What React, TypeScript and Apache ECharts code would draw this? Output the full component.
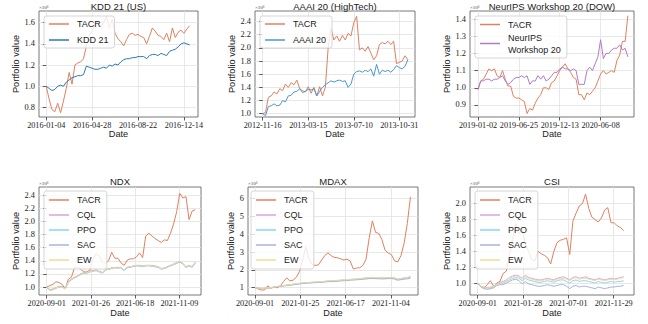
import React, { useEffect, useRef } from "react";
import * as echarts from "echarts";

// ---------- tick labels ----------
const KDD_TICKS = ["2016-01-04", "2016-04-28", "2016-08-22", "2016-12-14"];
const AAAI_TICKS = ["2012-11-16", "2013-03-15", "2013-07-10", "2013-10-31"];
const DOW_TICKS = ["2019-01-02", "2019-06-25", "2019-12-13", "2020-06-08"];
const NDX_TICKS = ["2020-09-01", "2021-01-26", "2021-06-18", "2021-11-09"];
const MDAX_TICKS = ["2020-09-01", "2021-01-25", "2021-06-17", "2021-11-04"];
const CSI_TICKS = ["2020-09-01", "2021-01-28", "2021-07-01", "2021-11-29"];

const KDD_Y = [0.8, 1.0, 1.2, 1.4, 1.6];
const AAAI_Y = [1.0, 1.2, 1.4, 1.6, 1.8, 2.0, 2.2, 2.4];
const DOW_Y = [0.9, 1.0, 1.1, 1.2, 1.3, 1.4];
const NDX_Y = [1.0, 1.2, 1.4, 1.6, 1.8, 2.0, 2.2, 2.4];
const MDAX_Y = [1, 2, 3, 4, 5, 6];
const CSI_Y = [1.0, 1.2, 1.4, 1.6, 1.8, 2.0];

// ---------- series values (portfolio value, x10^6) ----------
const KDD_TACR = [1.00,0.88,0.78,0.76,0.84,0.75,0.86,0.98,1.13,1.02,1.20,1.22,1.23,1.26,1.38,1.48,1.52,1.58,1.62,1.56,1.60,1.66,1.55,1.63,1.50,1.45,1.42,1.38,1.44,1.49,1.50,1.48,1.49,1.47,1.46,1.40,1.47,1.55,1.52,1.48,1.47,1.44,1.50,1.42,1.55,1.46,1.51,1.53,1.50,1.54,1.57];
const KDD_BASE = [1.00,0.98,0.96,0.97,1.00,1.01,1.00,1.04,1.06,1.08,1.09,1.10,1.10,1.11,1.19,1.18,1.17,1.16,1.16,1.17,1.18,1.17,1.20,1.19,1.21,1.20,1.23,1.25,1.26,1.26,1.27,1.27,1.28,1.28,1.28,1.26,1.29,1.30,1.30,1.29,1.31,1.30,1.29,1.33,1.34,1.35,1.37,1.40,1.41,1.40,1.39];

const AAAI_TACR = [1.00,1.02,1.25,1.27,1.33,1.30,1.38,1.35,1.45,1.40,1.47,1.44,1.51,1.38,1.35,1.33,1.41,1.31,1.40,1.27,1.41,1.27,1.40,2.00,2.30,2.12,2.18,2.10,2.19,2.12,2.22,2.18,2.38,2.48,1.97,2.00,1.95,2.02,1.92,1.82,1.88,2.05,2.08,2.06,2.10,2.05,2.10,1.76,1.78,1.80,1.88,1.82];
const AAAI_BASE = [1.00,0.97,1.11,1.12,1.15,1.12,1.13,1.20,1.18,1.27,1.28,1.33,1.34,1.38,1.32,1.34,1.37,1.36,1.38,1.27,1.34,1.40,1.44,1.47,1.50,1.48,1.50,1.51,1.49,1.50,1.40,1.45,1.60,1.64,1.65,1.63,1.66,1.64,1.68,1.57,1.75,1.60,1.66,1.64,1.66,1.63,1.67,1.73,1.70,1.68,1.72,1.82];

const DOW_TACR = [0.99,1.04,1.05,1.08,1.11,1.10,1.11,1.07,1.06,1.10,1.05,1.01,1.01,0.95,0.94,0.94,0.93,0.92,0.85,0.88,0.87,0.91,0.94,0.96,1.00,1.00,0.99,1.03,1.04,1.07,1.10,1.12,1.14,1.11,1.09,1.06,1.05,0.96,0.96,0.93,0.97,0.96,0.98,1.00,1.04,1.08,1.10,1.08,1.09,1.10,1.09,1.16,1.19,1.27,1.27,1.42];
const DOW_BASE = [0.99,1.04,1.04,1.05,1.05,1.04,1.05,1.05,1.06,1.07,1.04,1.02,1.03,1.05,1.06,1.06,1.07,1.06,1.07,1.02,1.04,1.04,1.07,1.05,1.07,1.04,1.05,1.07,1.09,1.09,1.11,1.12,1.11,1.11,1.10,1.11,1.10,1.02,1.02,1.02,1.10,1.12,1.10,1.14,1.18,1.28,1.17,1.20,1.20,1.22,1.23,1.23,1.25,1.22,1.23,1.18];

const NDX_TACR = [1.00,1.02,1.04,1.08,1.07,1.04,0.97,1.12,1.15,1.30,1.30,1.27,1.23,1.23,1.26,1.43,1.51,1.47,1.38,1.36,1.40,1.53,1.44,1.44,1.37,1.33,1.41,1.43,1.43,1.46,1.52,1.45,1.78,1.82,1.78,1.74,1.71,1.68,1.72,1.71,1.82,1.96,2.15,2.43,2.36,2.38,2.03,2.16,2.18];
const NDX_CQL = [1.00,0.95,0.96,0.98,1.00,1.00,0.97,1.08,1.11,1.14,1.16,1.20,1.21,1.21,1.24,1.24,1.25,1.23,1.22,1.26,1.27,1.29,1.29,1.29,1.30,1.26,1.29,1.31,1.31,1.33,1.32,1.32,1.32,1.33,1.32,1.31,1.31,1.27,1.29,1.31,1.32,1.35,1.37,1.39,1.36,1.30,1.33,1.31,1.38];
const NDX_PPO = [1.00,0.96,0.96,0.99,1.00,1.01,0.97,1.07,1.12,1.14,1.17,1.19,1.21,1.22,1.23,1.24,1.26,1.23,1.21,1.26,1.27,1.28,1.30,1.29,1.29,1.25,1.30,1.30,1.32,1.32,1.32,1.31,1.33,1.32,1.32,1.31,1.30,1.28,1.28,1.30,1.33,1.34,1.36,1.38,1.35,1.30,1.32,1.30,1.37];
const NDX_SAC = [1.00,0.96,0.97,0.99,1.01,1.00,0.98,1.08,1.12,1.15,1.17,1.20,1.22,1.22,1.24,1.25,1.26,1.24,1.22,1.27,1.28,1.29,1.30,1.30,1.30,1.26,1.30,1.31,1.32,1.33,1.33,1.32,1.33,1.33,1.33,1.32,1.31,1.28,1.29,1.31,1.33,1.35,1.37,1.38,1.36,1.31,1.33,1.31,1.37];
const NDX_EW = [1.00,0.95,0.96,0.99,1.00,1.00,0.97,1.08,1.12,1.14,1.17,1.20,1.21,1.22,1.24,1.24,1.26,1.23,1.22,1.27,1.27,1.29,1.30,1.29,1.30,1.26,1.30,1.31,1.32,1.33,1.32,1.32,1.33,1.33,1.32,1.32,1.31,1.28,1.29,1.31,1.33,1.35,1.37,1.39,1.36,1.30,1.33,1.31,1.38];

const MDAX_TACR = [1.00,0.93,0.87,0.87,1.10,0.98,1.02,1.00,1.10,1.35,1.55,1.38,1.42,1.58,1.90,2.55,3.30,2.60,2.30,2.25,2.28,2.55,2.80,2.95,2.80,2.70,2.68,2.62,2.55,2.60,2.50,2.05,2.10,2.12,2.25,2.60,3.80,4.75,4.10,4.05,3.70,3.10,2.95,2.85,2.50,2.45,2.80,3.50,4.60,6.10];
const MDAX_CQL = [1.00,0.97,0.96,0.97,0.99,1.00,1.03,1.06,1.09,1.11,1.14,1.16,1.19,1.21,1.24,1.26,1.28,1.29,1.30,1.31,1.32,1.33,1.35,1.37,1.38,1.39,1.40,1.42,1.43,1.44,1.46,1.47,1.48,1.50,1.52,1.54,1.56,1.57,1.56,1.55,1.54,1.55,1.56,1.57,1.54,1.47,1.51,1.54,1.57,1.61];
const MDAX_PPO = [1.00,0.97,0.95,0.96,0.98,1.00,1.03,1.06,1.09,1.11,1.13,1.16,1.18,1.21,1.23,1.25,1.27,1.28,1.29,1.30,1.31,1.32,1.34,1.36,1.37,1.38,1.39,1.41,1.42,1.43,1.45,1.46,1.47,1.49,1.51,1.53,1.55,1.56,1.55,1.54,1.53,1.54,1.55,1.56,1.53,1.46,1.50,1.53,1.56,1.60];
const MDAX_SAC = [1.00,0.97,0.95,0.96,0.98,0.99,1.02,1.05,1.08,1.10,1.12,1.14,1.16,1.19,1.21,1.23,1.25,1.26,1.27,1.28,1.29,1.30,1.32,1.34,1.34,1.35,1.36,1.38,1.39,1.40,1.42,1.43,1.44,1.46,1.47,1.49,1.51,1.52,1.51,1.50,1.49,1.50,1.51,1.52,1.48,1.42,1.45,1.48,1.50,1.53];
const MDAX_EW = [1.00,0.98,0.96,0.97,0.99,1.01,1.04,1.07,1.10,1.12,1.15,1.17,1.20,1.22,1.25,1.27,1.29,1.30,1.31,1.32,1.33,1.34,1.36,1.38,1.39,1.40,1.41,1.43,1.44,1.45,1.47,1.48,1.49,1.51,1.53,1.55,1.57,1.58,1.57,1.56,1.55,1.56,1.57,1.58,1.55,1.48,1.52,1.55,1.58,1.63];

const CSI_TACR = [0.99,0.96,0.94,0.98,1.03,0.96,1.00,1.02,1.12,1.15,1.35,1.55,1.75,1.62,1.68,1.50,1.40,1.30,1.28,1.40,1.37,1.35,1.32,1.24,1.40,1.51,1.54,1.55,1.57,1.36,1.78,1.88,1.97,2.00,2.12,1.94,1.83,1.80,1.77,1.82,1.92,1.95,1.76,1.76,1.72,1.70,1.66];
const CSI_CQL = [1.00,0.96,0.95,0.94,0.95,0.96,0.99,1.01,1.02,1.04,1.07,1.09,1.10,1.09,1.06,1.10,1.07,1.06,1.05,1.04,1.04,1.05,1.06,1.05,1.04,1.06,1.07,1.08,1.06,1.04,1.07,1.08,1.06,1.07,1.08,1.06,1.05,1.04,1.06,1.05,1.04,1.05,1.06,1.05,1.06,1.07,1.08];
const CSI_PPO = [1.00,0.96,0.94,0.93,0.94,0.95,0.98,1.00,1.00,1.02,1.04,1.06,1.07,1.06,1.03,1.06,1.04,1.03,1.02,1.01,1.01,1.02,1.03,1.02,1.01,1.03,1.04,1.04,1.02,1.00,1.03,1.04,1.02,1.03,1.03,1.02,1.01,1.00,1.02,1.01,1.00,1.01,1.02,1.01,1.02,1.02,1.03];
const CSI_SAC = [1.00,0.95,0.93,0.92,0.93,0.94,0.97,0.98,0.98,1.00,1.02,1.04,1.05,1.03,0.99,1.02,0.99,0.98,0.97,0.96,0.96,0.97,0.98,0.97,0.96,0.97,0.98,0.98,0.96,0.93,0.96,0.97,0.95,0.96,0.96,0.95,0.94,0.93,0.95,0.94,0.93,0.94,0.95,0.95,0.96,0.96,0.97];
const CSI_EW = [1.00,0.96,0.95,0.93,0.95,0.96,0.98,1.00,1.01,1.03,1.06,1.08,1.09,1.08,1.05,1.08,1.06,1.05,1.04,1.03,1.03,1.04,1.05,1.04,1.03,1.05,1.06,1.06,1.05,1.03,1.06,1.07,1.05,1.06,1.06,1.05,1.04,1.03,1.05,1.04,1.03,1.04,1.05,1.04,1.05,1.06,1.07];

// ---------- styling ----------
const SANS = "'Liberation Sans', Arial, sans-serif";
const SERIF = "'Liberation Serif', 'Times New Roman', serif";
const C_TACR = "#e0805f";
const C_KDD = "#2a7ab9";
const C_AAAI = "#4a97d0";
const C_NEURIPS = "#b27bc4";
const C_CQL = "#d9a3dc";
const C_PPO = "#86d9ee";
const C_SAC = "#a8b3da";
const C_EW = "#eedd9c";

type S = { name: string; values: number[]; color: string };
type P = {
  title: string;
  titleY: number;
  grid: { left: number; top: number; width: number; height: number };
  xMin: number; xMax: number; tickStep: number; step: number; ticks: string[];
  yMin: number; yMax: number; yTicks: number[]; yDigits: number;
  yNameGap: number; xNameGap: number;
  legend: { left: number; top: number; itemGap: number; padding: number[] };
  series: S[];
};

const bottomSeries = (t: number[], c: number[], p: number[], s: number[], e: number[]): S[] => [
  { name: "TACR", values: t, color: C_TACR },
  { name: "CQL", values: c, color: C_CQL },
  { name: "PPO", values: p, color: C_PPO },
  { name: "SAC", values: s, color: C_SAC },
  { name: "EW", values: e, color: C_EW },
];

const PANELS: P[] = [
  {
    title: "KDD 21 (US)", titleY: 6,
    grid: { left: 39, top: 11, width: 159, height: 106 },
    xMin: -12.6, xMax: 264.6, tickStep: 80, step: 5, ticks: KDD_TICKS,
    yMin: 0.71, yMax: 1.71, yTicks: KDD_Y, yDigits: 1, yNameGap: 17.5, xNameGap: 12.5,
    legend: { left: 44, top: 16, itemGap: 4, padding: [2, 6, 2, 5] },
    series: [
      { name: "TACR", values: KDD_TACR, color: C_TACR },
      { name: "KDD 21", values: KDD_BASE, color: C_KDD },
    ],
  },
  {
    title: "AAAI 20 (HighTech)", titleY: 6,
    grid: { left: 255, top: 11, width: 160, height: 106 },
    xMin: -13.5, xMax: 267.5, tickStep: 80, step: 5, ticks: AAAI_TICKS,
    yMin: 0.95, yMax: 2.56, yTicks: AAAI_Y, yDigits: 1, yNameGap: 17.5, xNameGap: 12.5,
    legend: { left: 260, top: 16, itemGap: 4, padding: [2, 6, 2, 5] },
    series: [
      { name: "TACR", values: AAAI_TACR, color: C_TACR },
      { name: "AAAI 20", values: AAAI_BASE, color: C_AAAI },
    ],
  },
  {
    title: "NeurIPS Workshop 20 (DOW)", titleY: 6,
    grid: { left: 470, top: 11, width: 164, height: 106 },
    xMin: -23.5, xMax: 458, tickStep: 120, step: 8, ticks: DOW_TICKS,
    yMin: 0.83, yMax: 1.447, yTicks: DOW_Y, yDigits: 1, yNameGap: 17.5, xNameGap: 12.5,
    legend: { left: 475, top: 16, itemGap: 1, padding: [2.5, 6, 2.5, 5] },
    series: [
      { name: "TACR", values: DOW_TACR, color: C_TACR },
      { name: "NeurIPS\nWorkshop 20", values: DOW_BASE, color: C_NEURIPS },
    ],
  },
  {
    title: "NDX", titleY: 181,
    grid: { left: 39, top: 187, width: 162, height: 108 },
    xMin: -17.4, xMax: 349, tickStep: 100, step: 7, ticks: NDX_TICKS,
    yMin: 0.878, yMax: 2.527, yTicks: NDX_Y, yDigits: 1, yNameGap: 17.5, xNameGap: 13.5,
    legend: { left: 44, top: 191, itemGap: 3, padding: [3, 6, 3, 5] },
    series: bottomSeries(NDX_TACR, NDX_CQL, NDX_PPO, NDX_SAC, NDX_EW),
  },
  {
    title: "MDAX", titleY: 181,
    grid: { left: 248, top: 187, width: 170, height: 108 },
    xMin: -15.4, xMax: 359.6, tickStep: 100, step: 7, ticks: MDAX_TICKS,
    yMin: 0.59, yMax: 6.65, yTicks: MDAX_Y, yDigits: 0, yNameGap: 11, xNameGap: 13.5,
    legend: { left: 251, top: 191, itemGap: 3, padding: [3, 6, 3, 5] },
    series: bottomSeries(MDAX_TACR, MDAX_CQL, MDAX_PPO, MDAX_SAC, MDAX_EW),
  },
  {
    title: "CSI", titleY: 181,
    grid: { left: 470, top: 187, width: 164, height: 108 },
    xMin: -17, xMax: 344.8, tickStep: 100, step: 7, ticks: CSI_TICKS,
    yMin: 0.85, yMax: 2.21, yTicks: CSI_Y, yDigits: 1, yNameGap: 17.5, xNameGap: 13.5,
    legend: { left: 475, top: 191, itemGap: 3, padding: [3, 6, 3, 5] },
    series: bottomSeries(CSI_TACR, CSI_CQL, CSI_PPO, CSI_SAC, CSI_EW),
  },
];

function buildOption() {
  const grid: any[] = [];
  const xAxis: any[] = [];
  const yAxis: any[] = [];
  const series: any[] = [];
  const legend: any[] = [];
  const graphic: any[] = [];

  PANELS.forEach((p, gi) => {
    grid.push({
      ...p.grid,
      show: true,
      borderColor: "#555555",
      borderWidth: 0.8,
      backgroundColor: "transparent",
      containLabel: false,
    });
    const xVals = p.ticks.map((_, i) => i * p.tickStep);
    xAxis.push({
      type: "value",
      gridIndex: gi,
      min: p.xMin,
      max: p.xMax,
      axisLine: { show: false },
      axisTick: { show: true, inside: false, length: 3.5, customValues: xVals, lineStyle: { color: "#333", width: 0.8 } },
      axisLabel: {
        customValues: xVals,
        formatter: (v: number) => p.ticks[Math.round(v / p.tickStep)] ?? "",
        fontFamily: SERIF, fontSize: 8.2, color: "#222", margin: 4,
      },
      splitLine: { show: true, lineStyle: { color: "#e2e2e2", width: 0.8 } },
      name: "Date",
      nameLocation: "middle",
      nameGap: p.xNameGap,
      nameTextStyle: { fontFamily: SANS, fontSize: 9.2, color: "#222" },
    });
    yAxis.push({
      type: "value",
      gridIndex: gi,
      min: p.yMin,
      max: p.yMax,
      axisLine: { show: false },
      axisTick: { show: true, inside: false, length: 3.5, customValues: p.yTicks, lineStyle: { color: "#333", width: 0.8 } },
      axisLabel: {
        customValues: p.yTicks,
        formatter: (v: number) => v.toFixed(p.yDigits),
        fontFamily: SERIF, fontSize: 8.4, color: "#222", margin: 4,
      },
      splitLine: { show: true, lineStyle: { color: "#e2e2e2", width: 0.8 } },
      name: "Portfolio value",
      nameLocation: "middle",
      nameGap: p.yNameGap,
      nameTextStyle: { fontFamily: SANS, fontSize: 9.2, color: "#222" },
    });
    p.series.forEach((s) => {
      series.push({
        type: "line",
        name: s.name,
        xAxisIndex: gi,
        yAxisIndex: gi,
        data: s.values.map((v, i) => [i * p.step, v]),
        showSymbol: false,
        symbol: "none",
        lineStyle: { color: s.color, width: 1 },
        itemStyle: { color: s.color },
        emphasis: { disabled: true },
        z: 2,
      });
    });
    legend.push({
      orient: "vertical",
      left: p.legend.left,
      top: p.legend.top,
      itemGap: p.legend.itemGap,
      padding: p.legend.padding,
      data: p.series.map((s) => s.name),
      icon: "rect",
      itemWidth: 20,
      itemHeight: 1.5,
      selectedMode: false,
      backgroundColor: "rgba(255,255,255,0.8)",
      borderColor: "#cccccc",
      borderWidth: 0.8,
      borderRadius: 2.5,
      textStyle: { fontFamily: SANS, fontSize: 9, color: "#222", lineHeight: 12, padding: [0, 0, 0, 3] },
      z: 5,
    });
    graphic.push({
      type: "text",
      x: p.grid.left + p.grid.width / 2,
      y: p.titleY,
      style: { text: p.title, fontFamily: SANS, fontSize: 9.5, fill: "#222", textAlign: "center", textVerticalAlign: "middle" },
    });
    graphic.push({
      type: "text",
      x: p.grid.left,
      y: p.grid.top - 1,
      style: { text: "×10⁶", fontFamily: SERIF, fontSize: 5, fill: "#444", textAlign: "left", textVerticalAlign: "bottom" },
    });
  });

  return { animation: false, backgroundColor: "#ffffff", grid, xAxis, yAxis, series, legend, graphic, tooltip: { show: false } };
}

export default function App() {
  const ref = useRef<HTMLDivElement>(null);
  useEffect(() => {
    if (!ref.current) return;
    const chart = echarts.init(ref.current, undefined, { renderer: "svg" });
    chart.setOption(buildOption() as any);
    return () => chart.dispose();
  }, []);
  return (
    <div
      ref={ref}
      style={{ position: "absolute", left: 0, top: 0, width: 648, height: 324, background: "#fff" }}
    />
  );
}
